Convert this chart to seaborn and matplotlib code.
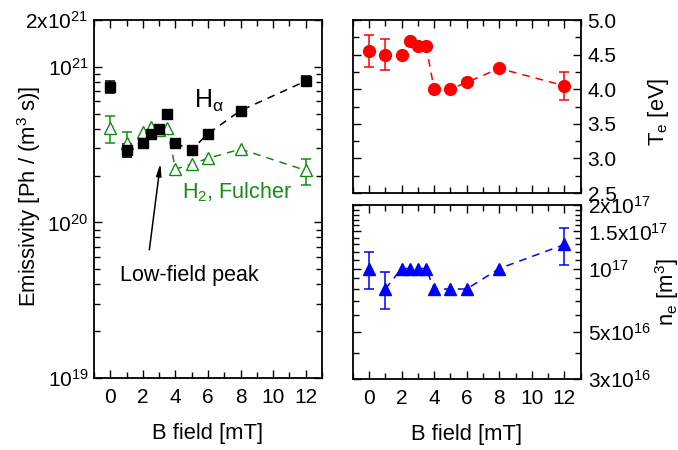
import numpy as np
import pandas as pd
import matplotlib
matplotlib.use("Agg")
import matplotlib.pyplot as plt
import matplotlib.ticker as mticker
import seaborn as sns

# Data
b_field = [0, 1, 2, 2.5, 3, 3.5, 4, 5, 6, 8, 12]

halpha = [7.4e20, 2.9e20, 3.25e20, 3.7e20, 3.96e20, 5.0e20, 3.22e20, 2.93e20, 3.72e20, 5.23e20, 8.1e20]
halpha_err = [0.65e20, 0.27e20, 0, 0, 0, 0, 0, 0, 0, 0, 0.6e20]

h2_fulcher = [4.02e20, 3.22e20, 3.79e20, 4.12e20, 3.95e20, 4.06e20, 2.2e20, 2.37e20, 2.58e20, 2.96e20, 2.16e20]
h2_err = [0.8e20, 0.6e20, 0, 0, 0, 0, 0, 0, 0, 0, 0.41e20]

te = [4.55, 4.50, 4.50, 4.70, 4.63, 4.63, 4.0, 4.0, 4.10, 4.30, 4.05]
te_err = [0.23, 0.22, 0, 0, 0, 0, 0, 0, 0, 0, 0.2]

ne = [1.0e17, 0.8e17, 1.0e17, 1.0e17, 1.0e17, 1.0e17, 0.8e17, 0.8e17, 0.8e17, 1.0e17, 1.3e17]
ne_err = [0.2e17, 0.16e17, 0, 0, 0, 0, 0, 0, 0, 0, 0.26e17]

# first field value from which the dashed guide line is drawn
line_start = {"halpha": 4, "h2": 3.5, "te": 3.5, "ne": 1}

x_ticks = [0, 2, 4, 6, 8, 10, 12]
em_ticks = [1e19, 1e20, 1e21, 2e21]
em_labels = ["10$^{19}$", "10$^{20}$", "10$^{21}$", "2x10$^{21}$"]
te_ticks = [2.5, 3.0, 3.5, 4.0, 4.5, 5.0]
ne_ticks = [3e16, 5e16, 1e17, 1.5e17, 2e17]
ne_labels = ["3x10$^{16}$", "5x10$^{16}$", "10$^{17}$", "1.5x10$^{17}$", "2x10$^{17}$"]

df = pd.DataFrame({"B": b_field, "halpha": halpha, "halpha_err": halpha_err,
                   "h2": h2_fulcher, "h2_err": h2_err, "te": te, "te_err": te_err,
                   "ne": ne, "ne_err": ne_err})

sns.set_style("ticks")
plt.rcParams["font.family"] = ["Liberation Sans", "DejaVu Sans"]
plt.rcParams["mathtext.fontset"] = "custom"
plt.rcParams["mathtext.rm"] = "Liberation Sans"
plt.rcParams["mathtext.it"] = "Liberation Sans"
plt.rcParams["mathtext.sf"] = "Liberation Sans"
for key in ("text.color", "axes.labelcolor", "xtick.color", "ytick.color", "axes.edgecolor"):
    plt.rcParams[key] = "black"

fig = plt.figure(figsize=(6.78, 4.5), dpi=100)
ax_em = fig.add_axes([0.1386, 0.16, 0.3363, 0.7956])
ax_te = fig.add_axes([0.5202, 0.5711, 0.3363, 0.3844])
ax_ne = fig.add_axes([0.5202, 0.1578, 0.3363, 0.3867])

GREEN = "#128c12"
dash = (5, 4)


def draw_series(ax, col, color, marker, size, filled=True):
    part = df[df["B"] >= line_start[col]]
    sns.lineplot(data=part, x="B", y=col, ax=ax, color=color, lw=1.1,
                 dashes=False, linestyle=(0, dash), legend=False, zorder=2)
    err = df[df[col + "_err"] > 0]
    ax.errorbar(err["B"], err[col], yerr=err[col + "_err"], fmt="none",
                ecolor=color, elinewidth=1.1, capsize=3.5, capthick=1.1, zorder=3)
    ax.plot(df["B"], df[col], ls="none", marker=marker, ms=size,
            mfc=color if filled else "white", mec=color, mew=1.0, zorder=4)


def place_label(ax, x, y):
    ax.yaxis.set_label_coords(x, y)
    ax.yaxis.label.set_verticalalignment("center")
    ax.yaxis.label.set_horizontalalignment("center")


draw_series(ax_em, "h2", GREEN, "^", 8.5, filled=False)
draw_series(ax_em, "halpha", "black", "s", 7)
draw_series(ax_te, "te", "red", "o", 8.5)
draw_series(ax_ne, "ne", "blue", "^", 8.5)

LABEL_FS = 15.8
TICK_FS = 15

# left panel
ax_em.set_yscale("log")
ax_em.set_ylim(1e19, 2e21)
ax_em.yaxis.set_major_locator(mticker.FixedLocator(em_ticks))
ax_em.yaxis.set_major_formatter(mticker.FixedFormatter(em_labels))
ax_em.yaxis.set_minor_locator(mticker.LogLocator(base=10, subs=np.arange(2, 10)))
ax_em.yaxis.set_minor_formatter(mticker.NullFormatter())
ax_em.set_ylabel("Emissivity [Ph / (m$^{3}$ s)]", fontsize=LABEL_FS)
place_label(ax_em, -0.285, 0.508)

ax_em.text(5.15, 5.45e20, r"H$_{\alpha}$", fontsize=18, ha="left", va="baseline")
ax_em.text(4.4, 1.43e20, "H$_2$, Fulcher", fontsize=15.5, color=GREEN,
           ha="left", va="baseline")
ax_em.text(0.6, 4.23e19, "Low-field peak", fontsize=15.5, ha="left", va="baseline")
ax_em.annotate("", xy=(3.08, 2.39e20), xytext=(2.4, 6.67e19),
               arrowprops=dict(arrowstyle="-|>,head_length=0.7,head_width=0.15",
                               color="black", lw=1.1, shrinkA=0, shrinkB=0))

# top right panel
ax_te.set_ylim(2.5, 5.0)
ax_te.yaxis.set_major_locator(mticker.FixedLocator(te_ticks))
ax_te.yaxis.set_major_formatter(mticker.FormatStrFormatter("%.1f"))
ax_te.yaxis.set_minor_locator(mticker.MultipleLocator(0.25))
ax_te.yaxis.set_label_position("right")
ax_te.set_ylabel("T$_e$ [eV]", fontsize=LABEL_FS)
place_label(ax_te, 1.343, 0.468)

# bottom right panel
ax_ne.set_yscale("log")
ax_ne.set_ylim(3e16, 2e17)
ax_ne.yaxis.set_major_locator(mticker.FixedLocator(ne_ticks))
ax_ne.yaxis.set_major_formatter(mticker.FixedFormatter(ne_labels))
ne_minor = [4e16, 6e16, 7e16, 8e16, 9e16] + [v * 1e16 for v in range(11, 20) if v != 15]
ax_ne.yaxis.set_minor_locator(mticker.FixedLocator(ne_minor))
ax_ne.yaxis.set_minor_formatter(mticker.NullFormatter())
ax_ne.yaxis.set_label_position("right")
ax_ne.set_ylabel("n$_e$ [m$^{3}$]", fontsize=LABEL_FS)
place_label(ax_ne, 1.378, 0.5)

for ax in (ax_em, ax_te, ax_ne):
    ax.set_xlim(-1, 13)
    ax.xaxis.set_major_locator(mticker.FixedLocator(x_ticks))
    ax.xaxis.set_minor_locator(mticker.MultipleLocator(1))
    ax.tick_params(which="both", direction="in", top=True, bottom=True,
                   left=True, right=True, width=1.0, labelsize=TICK_FS)
    ax.tick_params(which="major", length=6)
    ax.tick_params(which="minor", length=4)
    ax.tick_params(axis="x", pad=7)
    ax.tick_params(axis="y", pad=4)
    for sp in ax.spines.values():
        sp.set_linewidth(1.3)
        sp.set_visible(True)
    ax.set_xlabel("B field [mT]", fontsize=LABEL_FS, labelpad=12)

for ax in (ax_te, ax_ne):
    ax.tick_params(axis="y", which="both", labelleft=False, labelright=True, pad=5)
ax_te.tick_params(axis="x", labelbottom=False)
ax_te.set_xlabel("")

fig.savefig("out.png", dpi=100)
